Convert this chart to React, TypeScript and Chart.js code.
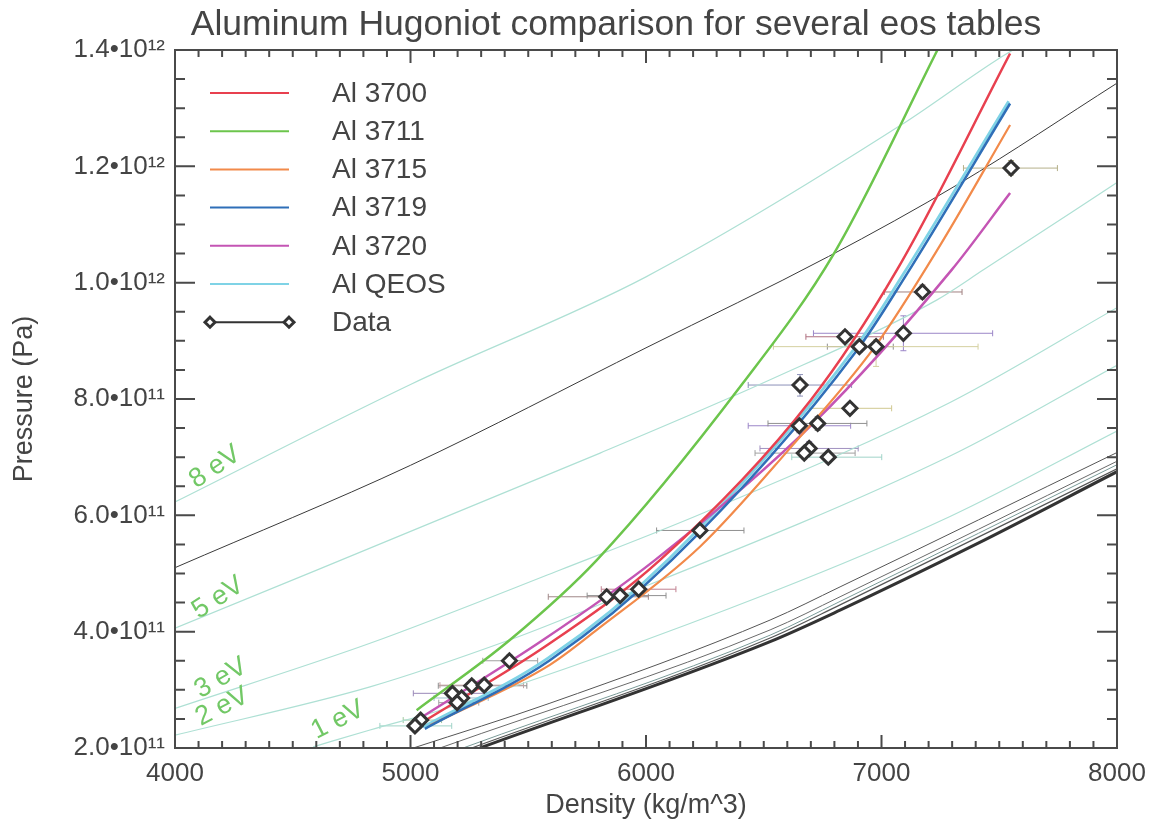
import React, { useEffect, useRef } from 'react';
import { Chart, registerables } from 'chart.js';

Chart.register(...registerables);

const FONT = "'Liberation Sans', Arial, Helvetica, sans-serif";
const TEXT = '#444';
const TITLE = 'Aluminum Hugoniot comparison for several eos tables';

// ---- Hugoniot curves (density kg/m^3, pressure Pa) ----
const al3700Density = [5054, 5592, 6059, 6699, 7070, 7546];
const al3700Pressure = [2.45e11, 3.8e11, 5.23e11, 7.98e11, 10.25e11, 13.94e11];

const al3711Density = [5026, 5423, 5791, 6411, 6798, 7230, 7262];
const al3711Pressure = [2.65e11, 3.86e11, 5.23e11, 8.27e11, 10.5e11, 13.94e11, 14.2e11];

const al3715Density = [5083, 5592, 5791, 6229, 6600, 6972, 7250, 7546];
const al3715Pressure = [2.39e11, 3.43e11, 4.03e11, 5.46e11, 7.1e11, 8.9e11, 10.65e11, 12.71e11];

const al3719Density = [5061, 5592, 6109, 6896, 7100, 7546];
const al3719Pressure = [2.33e11, 3.51e11, 5.23e11, 8.84e11, 10.1e11, 13.08e11];

const al3720Density = [5040, 5564, 6038, 6710, 7298, 7546];
const al3720Pressure = [2.51e11, 3.86e11, 5.23e11, 7.58e11, 10.22e11, 11.54e11];

const alQeosDensity = [5052, 5582, 6099, 6886, 7090, 7540];
const alQeosPressure = [2.36e11, 3.54e11, 5.26e11, 8.87e11, 10.13e11, 13.12e11];

// ---- QEOS isotherms ----
const iso8Density = [4000, 5000, 6000, 7079, 7489, 7600];
const iso8Pressure = [6.23e11, 8.25e11, 10.1e11, 12.7e11, 13.83e11, 14.1e11];
const iso5Density = [4000, 5805, 6527, 7234, 7433, 8000];
const iso5Pressure = [4.06e11, 7.07e11, 8.33e11, 9.7e11, 10.22e11, 11.72e11];
const iso3Density = [4000, 4828, 5635, 6243, 7291, 8000];
const iso3Pressure = [2.68e11, 3.8e11, 5.06e11, 6.04e11, 7.94e11, 9.57e11];
const iso2Density = [4000, 4828, 5423, 5677, 7291, 8000];
const iso2Pressure = [2.22e11, 3.05e11, 3.86e11, 4.26e11, 7.02e11, 8.58e11];
const iso1Density = [4587, 4828, 5168, 6527, 7291, 8000];
const iso1Pressure = [2.02e11, 2.31e11, 2.7e11, 4.67e11, 5.98e11, 7.45e11];

// ---- black curves ----
const blackDensity = [4000, 5000, 6000, 6775, 7333, 8000];
const blackPressure = [5.1e11, 6.86e11, 8.88e11, 10.45e11, 11.71e11, 13.43e11];
const coldADensity = [5012, 5592, 6527, 6824, 8000];
const coldAPressure = [2.0e11, 2.77e11, 4.2e11, 4.77e11, 7.08e11];
const coldBDensity = [5125, 6527, 6824, 8000];
const coldBPressure = [2.0e11, 4.03e11, 4.6e11, 6.93e11];
const coldCDensity = [5223, 6527, 6824, 8000];
const coldCPressure = [2.0e11, 3.94e11, 4.52e11, 6.87e11];
const coldDDensity = [5260, 6527, 6824, 8000];
const coldDPressure = [2.0e11, 3.89e11, 4.46e11, 6.8e11];
const coldEDensity = [5295, 6527, 6824, 7400, 8000];
const coldEPressure = [2.0e11, 3.83e11, 4.37e11, 5.5e11, 6.75e11];

// ---- experimental data ----
const dataDensity = [7550, 7174, 6845, 7093, 6906, 6977, 6654, 6866, 6651, 6729, 6693, 6672, 6774, 6229, 5833, 5890, 5969, 5420, 5178, 5217, 5260, 5313, 5198, 5043, 5019];
const dataPressure = [11.97e11, 9.84e11, 9.07e11, 9.13e11, 8.9e11, 8.9e11, 8.24e11, 7.84e11, 7.54e11, 7.58e11, 7.15e11, 7.07e11, 7.0e11, 5.74e11, 4.6e11, 4.62e11, 4.73e11, 3.5e11, 2.94e11, 2.86e11, 3.07e11, 3.08e11, 2.78e11, 2.48e11, 2.38e11];
const dataDensityLo = [7348, 7012, 6679, 6711, 6770, 6541, 6434, 6693, 6434, 6518, 6484, 6463, 6619, 6045, 5585, 5750, 5810, 5307, 5012, 5100, 5118, 5125, 5120, 4969, 4870];
const dataDensityHi = [7747, 7342, 7008, 7472, 7050, 7410, 6873, 7043, 6869, 6938, 6901, 6888, 7001, 6416, 6010, 6085, 6127, 5540, 5323, 5330, 5494, 5480, 5290, 5132, 5175];
const dataPressureLo = [11.85e11, 9.72e11, 8.97e11, 8.83e11, 8.8e11, 8.56e11, 8.05e11, 7.74e11, 7.42e11, 7.46e11, 7.05e11, 6.97e11, 6.9e11, 5.64e11, 4.5e11, 4.52e11, 4.63e11, 3.4e11, 2.84e11, 2.76e11, 2.97e11, 2.98e11, 2.68e11, 2.4e11, 2.3e11];
const dataPressureHi = [12.1e11, 9.96e11, 9.17e11, 9.43e11, 9.0e11, 9.02e11, 8.42e11, 7.94e11, 7.66e11, 7.7e11, 7.27e11, 7.17e11, 7.1e11, 5.84e11, 4.7e11, 4.72e11, 4.83e11, 3.6e11, 3.04e11, 2.96e11, 3.17e11, 3.18e11, 2.88e11, 2.56e11, 2.46e11];
const errorBarColors = ['#b5b08a', '#a08080', '#b07080', '#9b86c8', '#909090', '#d4d0a0', '#8c90b8', '#d0c890', '#9b86c8', '#909090', '#a090c0', '#a0a0a0', '#a0d4c8', '#909090', '#a08888', '#909090', '#c08090', '#a0a0a0', '#9a88b8', '#a0c0d0', '#909090', '#c0a0a0', '#a0a0a0', '#a0c8a0', '#a0d4c8'];

// ---- axes ----
const xTickValues = [4000, 5000, 6000, 7000, 8000];
const xTickLabels = ['4000', '5000', '6000', '7000', '8000'];
const yTickValues = [2e11, 4e11, 6e11, 8e11, 10e11, 12e11, 14e11];
const yTickLabels = ['2.0•10¹¹', '4.0•10¹¹', '6.0•10¹¹', '8.0•10¹¹', '1.0•10¹²', '1.2•10¹²', '1.4•10¹²'];

// ---- isotherm labels ----
const evLabels = ['8 eV', '5 eV', '3 eV', '2 eV', '1 eV'];
const evLabelDensity = [4170, 4183, 4195, 4200, 4692];
const evLabelPressure = [6.83e11, 4.58e11, 3.2e11, 2.71e11, 2.48e11];
const evLabelAngle = [-34, -33, -30, -27, -27];

// ---- legend ----
const legendLabels = ['Al 3700', 'Al 3711', 'Al 3715', 'Al 3719', 'Al 3720', 'Al QEOS', 'Data'];

const C_RED = '#e8404f';
const C_GREEN = '#6cc54c';
const C_ORANGE = '#f28a4a';
const C_BLUE = '#2f6fb8';
const C_MAGENTA = '#c455b4';
const C_CYAN = '#7fd3e6';
const C_ISO = '#aee0d4';
const C_DATA = '#333333';
const legendColors = [C_RED, C_GREEN, C_ORANGE, C_BLUE, C_MAGENTA, C_CYAN, C_DATA];

function pts(xs: number[], ys: number[]) {
  return xs.map((x, i) => ({ x, y: ys[i] }));
}

function curve(label: string, xs: number[], ys: number[], color: string, width: number, order: number) {
  return {
    type: 'line' as const,
    label,
    data: pts(xs, ys),
    borderColor: color,
    backgroundColor: color,
    borderWidth: width,
    pointRadius: 0,
    cubicInterpolationMode: 'monotone' as const,
    fill: false,
    clip: 0,
    order,
  };
}

function drawDiamond(ctx: CanvasRenderingContext2D, x: number, y: number, r: number) {
  ctx.beginPath();
  ctx.moveTo(x, y - r);
  ctx.lineTo(x + r, y);
  ctx.lineTo(x, y + r);
  ctx.lineTo(x - r, y);
  ctx.closePath();
  ctx.fillStyle = '#fff';
  ctx.fill();
  ctx.lineWidth = 3;
  ctx.strokeStyle = C_DATA;
  ctx.stroke();
}

const decorPlugin = {
  id: 'decor',
  beforeDatasetsDraw(chart: any) {
    const { ctx } = chart;
    const xs = chart.scales.x;
    const ys = chart.scales.y;
    ctx.save();
    ctx.lineWidth = 1;
    for (let i = 0; i < dataDensity.length; i++) {
      ctx.strokeStyle = errorBarColors[i];
      const px = xs.getPixelForValue(dataDensity[i]);
      const py = ys.getPixelForValue(dataPressure[i]);
      const x0 = xs.getPixelForValue(dataDensityLo[i]);
      const x1 = xs.getPixelForValue(dataDensityHi[i]);
      const y0 = ys.getPixelForValue(dataPressureLo[i]);
      const y1 = ys.getPixelForValue(dataPressureHi[i]);
      ctx.beginPath();
      ctx.moveTo(x0, py); ctx.lineTo(x1, py);
      ctx.moveTo(x0, py - 3); ctx.lineTo(x0, py + 3);
      ctx.moveTo(x1, py - 3); ctx.lineTo(x1, py + 3);
      ctx.moveTo(px, y0); ctx.lineTo(px, y1);
      ctx.moveTo(px - 3, y0); ctx.lineTo(px + 3, y0);
      ctx.moveTo(px - 3, y1); ctx.lineTo(px + 3, y1);
      ctx.stroke();
    }
    ctx.restore();
  },
  afterDraw(chart: any) {
    const { ctx, chartArea } = chart;
    const { left, right, top, bottom } = chartArea;
    const xs = chart.scales.x;
    const ys = chart.scales.y;
    ctx.save();
    // title
    ctx.fillStyle = TEXT;
    ctx.font = `35.5px ${FONT}`;
    ctx.textAlign = 'center';
    ctx.textBaseline = 'alphabetic';
    ctx.fillText(TITLE, 616, 35);
    // frame
    ctx.strokeStyle = '#4a4a4a';
    ctx.lineWidth = 2;
    ctx.strokeRect(left, top, right - left, bottom - top);
    // x ticks (inward, top and bottom)
    for (let v = xs.min; v <= xs.max + 1e-6; v += 100) {
      const major = Math.abs(v / 1000 - Math.round(v / 1000)) < 1e-6;
      const len = major ? 13 : 7;
      const p = xs.getPixelForValue(v);
      ctx.beginPath();
      ctx.moveTo(p, bottom); ctx.lineTo(p, bottom - len);
      ctx.moveTo(p, top); ctx.lineTo(p, top + len);
      ctx.stroke();
    }
    // y ticks (inward, left and right)
    for (let v = ys.min; v <= ys.max + 1; v += 5e10) {
      const major = Math.abs(v / 2e11 - Math.round(v / 2e11)) < 1e-6;
      const len = major ? 20 : 10;
      const p = ys.getPixelForValue(v);
      ctx.beginPath();
      ctx.moveTo(left, p); ctx.lineTo(left + len, p);
      ctx.moveTo(right, p); ctx.lineTo(right - len, p);
      ctx.stroke();
    }
    // isotherm labels
    ctx.fillStyle = '#72c866';
    ctx.font = `27px ${FONT}`;
    ctx.textAlign = 'center';
    ctx.textBaseline = 'middle';
    for (let i = 0; i < evLabels.length; i++) {
      const px = xs.getPixelForValue(evLabelDensity[i]);
      const py = ys.getPixelForValue(evLabelPressure[i]);
      ctx.save();
      ctx.translate(px, py);
      ctx.rotate((evLabelAngle[i] * Math.PI) / 180);
      ctx.fillText(evLabels[i], 0, 0);
      ctx.restore();
    }
    // legend
    const lx0 = left + 35;
    const lx1 = left + 114;
    const tx = left + 157;
    ctx.font = `28px ${FONT}`;
    ctx.textAlign = 'left';
    ctx.textBaseline = 'middle';
    for (let i = 0; i < legendLabels.length; i++) {
      const ly = top + 43 + i * 38.2;
      ctx.strokeStyle = legendColors[i];
      ctx.lineWidth = 2;
      ctx.beginPath();
      ctx.moveTo(lx0, ly); ctx.lineTo(lx1, ly);
      ctx.stroke();
      if (legendLabels[i] === 'Data') {
        drawDiamond(ctx, lx0, ly, 5);
        drawDiamond(ctx, lx1, ly, 5);
      }
      ctx.fillStyle = TEXT;
      ctx.fillText(legendLabels[i], tx, ly + 1);
    }
    ctx.restore();
  },
};

export default function App() {
  const canvasRef = useRef<HTMLCanvasElement | null>(null);

  useEffect(() => {
    const canvas = canvasRef.current;
    if (!canvas) return;
    Chart.defaults.font.family = FONT;
    Chart.defaults.color = TEXT;

    const datasets: any[] = [
      {
        type: 'scatter',
        label: 'Data',
        data: pts(dataDensity, dataPressure),
        showLine: false,
        pointStyle: 'rectRot',
        pointRadius: 7,
        pointBorderWidth: 3,
        pointBorderColor: C_DATA,
        pointBackgroundColor: '#ffffff',
        clip: false,
        order: 0,
      },
      curve('Al 3700', al3700Density, al3700Pressure, C_RED, 2.5, 2),
      curve('Al 3711', al3711Density, al3711Pressure, C_GREEN, 2.5, 3),
      curve('Al 3715', al3715Density, al3715Pressure, C_ORANGE, 2.2, 4),
      curve('Al 3719', al3719Density, al3719Pressure, C_BLUE, 2.5, 1),
      curve('Al 3720', al3720Density, al3720Pressure, C_MAGENTA, 2.5, 5),
      curve('Al QEOS', alQeosDensity, alQeosPressure, C_CYAN, 2.8, 6),
      curve('black', blackDensity, blackPressure, '#3a3a3a', 1, 7),
      curve('cold A', coldADensity, coldAPressure, '#555555', 1, 8),
      curve('cold B', coldBDensity, coldBPressure, '#6a6a6a', 1, 8),
      curve('cold C', coldCDensity, coldCPressure, '#7a9a98', 1, 8),
      curve('cold D', coldDDensity, coldDPressure, '#555555', 1.2, 8),
      curve('cold E', coldEDensity, coldEPressure, '#333333', 3, 8),
      curve('8 eV', iso8Density, iso8Pressure, C_ISO, 1.2, 9),
      curve('5 eV', iso5Density, iso5Pressure, C_ISO, 1.2, 9),
      curve('3 eV', iso3Density, iso3Pressure, C_ISO, 1.2, 9),
      curve('2 eV', iso2Density, iso2Pressure, C_ISO, 1.2, 9),
      curve('1 eV', iso1Density, iso1Pressure, C_ISO, 1.2, 9),
    ];

    const chart = new Chart(canvas, {
      type: 'line',
      data: { datasets },
      options: {
        animation: false,
        responsive: false,
        maintainAspectRatio: false,
        layout: { padding: { left: 0, right: 41, top: 50, bottom: 0 } },
        plugins: {
          legend: { display: false },
          tooltip: { enabled: false },
          title: { display: false, text: TITLE },
        },
        scales: {
          x: {
            type: 'linear',
            min: 4000,
            max: 8000,
            afterBuildTicks: (scale: any) => {
              scale.ticks = xTickValues.map((v) => ({ value: v }));
            },
            ticks: {
              color: TEXT,
              font: { size: 26 },
              padding: 10,
              maxRotation: 0,
              autoSkip: false,
              callback: (v: any) => {
                const i = xTickValues.indexOf(Number(v));
                return i >= 0 ? xTickLabels[i] : '';
              },
            },
            grid: { display: false, drawTicks: false },
            border: { display: false },
            title: {
              display: true,
              text: 'Density (kg/m^3)',
              color: TEXT,
              font: { size: 27 },
              padding: { top: 0, bottom: 6 },
            },
            afterFit: (scale: any) => {
              scale.height = 80;
            },
          },
          y: {
            type: 'linear',
            min: 2e11,
            max: 14e11,
            afterBuildTicks: (scale: any) => {
              scale.ticks = yTickValues.map((v) => ({ value: v }));
            },
            ticks: {
              color: TEXT,
              font: { size: 26 },
              padding: 10,
              autoSkip: false,
              callback: (v: any) => {
                const i = yTickValues.findIndex((t) => Math.abs(t - Number(v)) < 1e6);
                return i >= 0 ? yTickLabels[i] : '';
              },
            },
            grid: { display: false, drawTicks: false },
            border: { display: false },
            title: {
              display: true,
              text: 'Pressure (Pa)',
              color: TEXT,
              font: { size: 27 },
              padding: { top: 8, bottom: 0 },
            },
            afterFit: (scale: any) => {
              scale.width = 175;
            },
          },
        },
      },
      plugins: [decorPlugin],
    });

    return () => {
      chart.destroy();
    };
  }, []);

  return (
    <div style={{ position: 'absolute', left: 0, top: 0, width: 1158, height: 828, background: '#fff' }}>
      <canvas ref={canvasRef} width={1158} height={828} style={{ width: 1158, height: 828, display: 'block' }} />
    </div>
  );
}
